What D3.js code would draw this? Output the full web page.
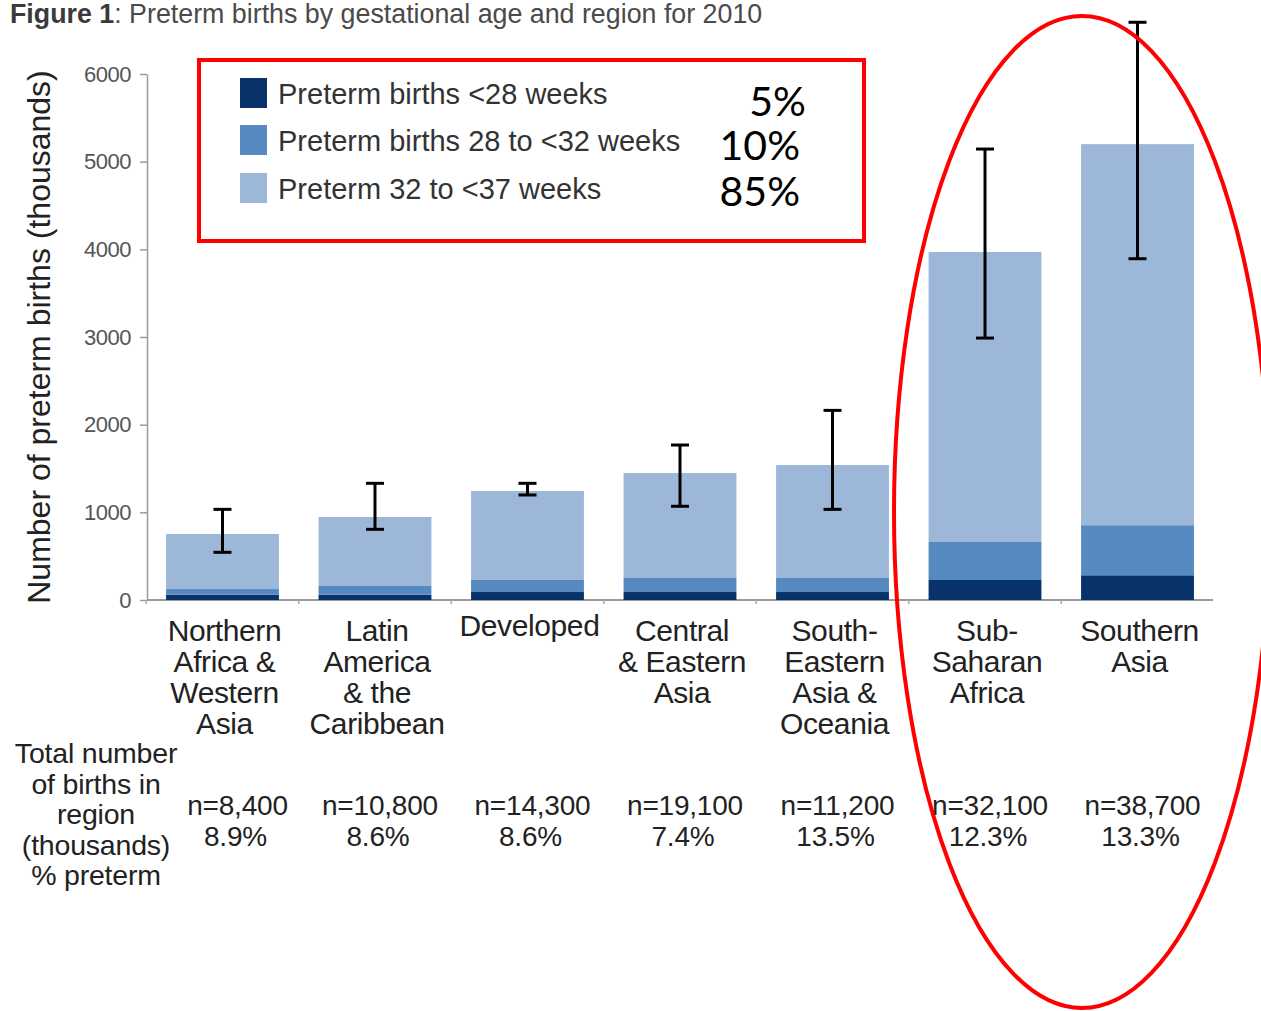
<!DOCTYPE html>
<html>
<head>
<meta charset="utf-8">
<script src="https://cdn.jsdelivr.net/npm/d3@7"></script>
<style>
  html, body { margin: 0; padding: 0; background: #fff; }
  svg { display: block; }
  text { font-family: "Liberation Sans", Arial, sans-serif; }
</style>
</head>
<body>
<svg id="chart" width="1261" height="1011"></svg>
<script>
// Regions (x-axis categories), each label split into lines
const regions = [
  "Northern Africa & Western Asia",
  "Latin America & the Caribbean",
  "Developed",
  "Central & Eastern Asia",
  "South-Eastern Asia & Oceania",
  "Sub-Saharan Africa",
  "Southern Asia"
];
const regionLines = [
  ["Northern", "Africa &", "Western", "Asia"],
  ["Latin", "America", "& the", "Caribbean"],
  ["Developed"],
  ["Central", "& Eastern", "Asia"],
  ["South-", "Eastern", "Asia &", "Oceania"],
  ["Sub-", "Saharan", "Africa"],
  ["Southern", "Asia"]
];

// Preterm births (thousands) by gestational age group
const under28   = [60, 60, 91, 91, 91, 228, 282];
const from28to32 = [65, 100, 137, 160, 160, 434, 571];
const from32to37 = [628, 787, 1015, 1198, 1289, 3308, 4347];

// Uncertainty range on the total (thousands)
const errLow  = [544, 806, 1198, 1069, 1034, 2988, 3893];
const errHigh = [1034, 1331, 1331, 1768, 2163, 5144, 6590];

// Total births in region and % preterm
const totalBirths = ["n=8,400", "n=10,800", "n=14,300", "n=19,100", "n=11,200", "n=32,100", "n=38,700"];
const pctPreterm  = ["8.9%", "8.6%", "8.6%", "7.4%", "13.5%", "12.3%", "13.3%"];

// Series / legend
const seriesKeys   = ["under28", "from28to32", "from32to37"];
const seriesLabels = ["Preterm births <28 weeks", "Preterm births 28 to <32 weeks", "Preterm 32 to <37 weeks"];
const seriesShares = ["5%", "10%", "85%"];
const seriesColors = ["#08336a", "#5589bf", "#9cb7d7"];

const yTicks = [0, 1000, 2000, 3000, 4000, 5000, 6000];
const sideLabel = ["Total number", "of births in", "region", "(thousands)", "% preterm"];

const rows = regions.map((r, i) => ({
  region: r,
  under28: under28[i],
  from28to32: from28to32[i],
  from32to37: from32to37[i],
  lo: errLow[i],
  hi: errHigh[i]
}));

const svg = d3.select("#chart");

const x = d3.scaleBand().domain(regions).range([147, 1213])
  .paddingInner(0.26).paddingOuter(0.125);
const y = d3.scaleLinear().domain([0, 6000]).range([600, 74]);
const color = d3.scaleOrdinal().domain(seriesKeys).range(seriesColors);

// Title
svg.append("text")
  .attr("x", 10).attr("y", 23)
  .attr("font-size", 26.8).attr("fill", "#4a4a4a")
  .call(t => {
    t.append("tspan").attr("font-weight", "bold").attr("fill", "#3a3a3a").text("Figure 1");
    t.append("tspan").text(": Preterm births by gestational age and region for 2010");
  });

// Y axis
const yAxis = svg.append("g")
  .attr("transform", "translate(147,0)")
  .call(d3.axisLeft(y).tickValues(yTicks).tickFormat(d3.format("d"))
    .tickSize(7).tickSizeOuter(0).tickPadding(9));
yAxis.select(".domain").attr("stroke", "#9a9a9a").attr("stroke-width", 1.5);
yAxis.selectAll(".tick line").attr("stroke", "#9a9a9a").attr("stroke-width", 1.5);
yAxis.selectAll(".tick text")
  .attr("font-size", 22).attr("fill", "#555")
  .attr("letter-spacing", -0.5)
  .style("font-family", "'Liberation Sans', Arial, sans-serif");

// Y axis title
svg.append("text")
  .attr("transform", "translate(50,337) rotate(-90)")
  .attr("text-anchor", "middle")
  .attr("font-size", 32).attr("fill", "#222")
  .text("Number of preterm births (thousands)");

// Baseline with small separators between regions
svg.append("line")
  .attr("x1", 147).attr("x2", 1213).attr("y1", y(0)).attr("y2", y(0))
  .attr("stroke", "#9a9a9a").attr("stroke-width", 2);
svg.append("g").selectAll("line")
  .data(regions)
  .join("line")
  .attr("x1", d => x(d) - x.step() * x.paddingInner() / 2)
  .attr("x2", d => x(d) - x.step() * x.paddingInner() / 2)
  .attr("y1", y(0)).attr("y2", y(0) + 4)
  .attr("stroke", "#aaa").attr("stroke-width", 1.5);

// Stacked bars
const stacked = d3.stack().keys(seriesKeys)(rows);
svg.append("g").selectAll("g")
  .data(stacked)
  .join("g")
  .attr("fill", d => color(d.key))
  .selectAll("rect")
  .data(d => d)
  .join("rect")
  .attr("x", d => x(d.data.region))
  .attr("width", x.bandwidth())
  .attr("y", d => y(d[1]))
  .attr("height", d => y(d[0]) - y(d[1]));

// Error bars
const capW = 18;
const eb = svg.append("g").attr("stroke", "#000").attr("stroke-width", 3);
rows.forEach(d => {
  const cx = x(d.region) + x.bandwidth() / 2;
  eb.append("line").attr("x1", cx).attr("x2", cx).attr("y1", y(d.hi)).attr("y2", y(d.lo));
  eb.append("line").attr("x1", cx - capW / 2).attr("x2", cx + capW / 2).attr("y1", y(d.hi)).attr("y2", y(d.hi));
  eb.append("line").attr("x1", cx - capW / 2).attr("x2", cx + capW / 2).attr("y1", y(d.lo)).attr("y2", y(d.lo));
});

// Region labels
const lineH = 31;
svg.append("g").selectAll("text")
  .data(regions)
  .join("text")
  .attr("text-anchor", "middle")
  .attr("font-size", 30).attr("fill", "#222")
  .attr("letter-spacing", -0.4)
  .attr("transform", (d, i) => `translate(${x(d) + x.bandwidth() / 2 + 2},${regionLines[i].length === 1 ? 636 : 641})`)
  .each(function (d, i) {
    d3.select(this).selectAll("tspan")
      .data(regionLines[i])
      .join("tspan")
      .attr("x", 0)
      .attr("dy", (l, j) => j === 0 ? 0 : lineH)
      .text(l => l);
  });

// Side label for the totals rows
svg.append("text")
  .attr("text-anchor", "middle")
  .attr("font-size", 28.5).attr("fill", "#222")
  .attr("letter-spacing", -0.2)
  .attr("transform", "translate(96,763)")
  .selectAll("tspan")
  .data(sideLabel)
  .join("tspan")
  .attr("x", 0)
  .attr("dy", (l, j) => j === 0 ? 0 : 30.5)
  .text(l => l);

// Totals and % preterm per region
const stats = svg.append("g")
  .attr("text-anchor", "middle")
  .attr("font-size", 28).attr("fill", "#222")
  .attr("letter-spacing", -0.2);
regions.forEach((r, i) => {
  const cx = x(r) + x.bandwidth() / 2 + (i === 0 ? 15 : 5);
  stats.append("text").attr("x", cx).attr("y", 815).text(totalBirths[i]);
  stats.append("text").attr("x", cx - 2).attr("y", 846).text(pctPreterm[i]);
});

// Legend
const legend = svg.append("g");
legend.append("rect")
  .attr("x", 199).attr("y", 60).attr("width", 665).attr("height", 181)
  .attr("fill", "none").attr("stroke", "#ff0000").attr("stroke-width", 4);
const legendY = [78, 125, 173];
seriesKeys.forEach((k, i) => {
  legend.append("rect")
    .attr("x", 240).attr("y", legendY[i]).attr("width", 27).attr("height", 30)
    .attr("fill", color(k));
  legend.append("text")
    .attr("x", 278).attr("y", legendY[i] + 26)
    .attr("font-size", 29).attr("fill", "#333")
    .text(seriesLabels[i]);
});
const shareX = [806, 800, 800];
const shareY = [116, 160, 206];
seriesShares.forEach((s, i) => {
  legend.append("text")
    .attr("x", shareX[i]).attr("y", shareY[i])
    .attr("text-anchor", "end")
    .attr("font-size", 41).attr("fill", "#000")
    .style("font-family", "Lato, 'Open Sans', sans-serif")
    .text(s);
});

// Highlight around the two largest regions
svg.append("ellipse")
  .attr("cx", 1082).attr("cy", 512).attr("rx", 188).attr("ry", 496)
  .attr("fill", "none").attr("stroke", "#ff0000").attr("stroke-width", 4);
</script>
</body>
</html>
